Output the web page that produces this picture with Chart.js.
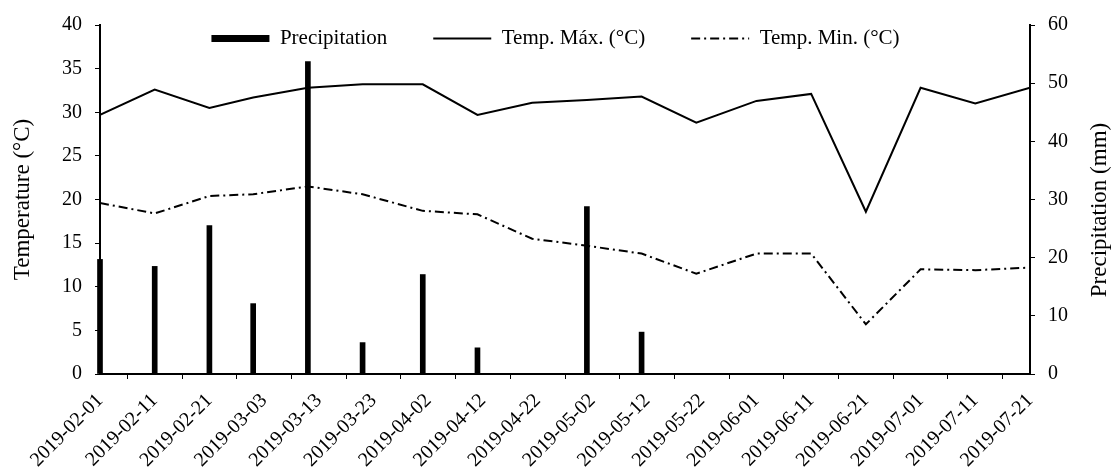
<!DOCTYPE html>
<html>
<head>
<meta charset="utf-8">
<script src="https://cdn.jsdelivr.net/npm/chart.js@4"></script>
<style>
  body { margin: 0; background: #fff; }
</style>
</head>
<body>
<canvas id="chart" width="1111" height="473"></canvas>
<script>
// dekad dates for temperature
const tempDates = ['2019-02-01', '2019-02-11', '2019-02-21', '2019-03-01', '2019-03-11', '2019-03-21',
  '2019-04-01', '2019-04-11', '2019-04-21', '2019-05-01', '2019-05-11', '2019-05-21',
  '2019-06-01', '2019-06-11', '2019-06-21', '2019-07-01', '2019-07-11', '2019-07-21'];
const tempMax = [29.7, 32.6, 30.5, 31.7, 32.8, 33.2, 33.2, 29.7, 31.1, 31.4, 31.8, 28.8, 31.3, 32.1, 18.6, 32.8, 31.0, 32.8];
const tempMin = [19.6, 18.4, 20.4, 20.6, 21.5, 20.6, 18.7, 18.3, 15.5, 14.7, 13.8, 11.5, 13.8, 13.8, 5.7, 12.0, 11.9, 12.2];

// rain events
const rainDates = ['2019-02-01', '2019-02-11', '2019-02-21', '2019-03-01', '2019-03-11', '2019-03-21',
  '2019-04-01', '2019-04-11', '2019-05-01', '2019-05-11'];
const rain = [19.7, 18.5, 25.5, 12.1, 53.7, 5.4, 17.1, 4.5, 28.8, 7.2];

const startDate = '2019-02-01';
const endDate = '2019-07-21';

const DAY = 86400000;
const t0 = Date.parse(startDate);
const dayOf = (s) => (Date.parse(s) - t0) / DAY;
const dateOf = (d) => new Date(t0 + d * DAY).toISOString().slice(0, 10);

const FONT = 'Liberation Serif';

// legend floats over the plot, takes no room
const legendInside = {
  id: 'legendInside',
  beforeInit(chart) {
    const fit = chart.legend.fit;
    chart.legend.fit = function () {
      fit.call(this);
      this.height = 0;
    };
  },
  afterLayout(chart) {
    const lg = chart.legend;
    lg.top = -18;
    lg.bottom = 62;
    lg.height = 80;
  }
};

// right axis title reads bottom-to-top like the left one
const rightTitle = {
  id: 'rightTitle',
  afterDraw(chart) {
    const ctx = chart.ctx;
    ctx.save();
    ctx.translate(1100, 210);
    ctx.rotate(-Math.PI / 2);
    ctx.font = '23px "' + FONT + '"';
    ctx.fillStyle = '#000';
    ctx.textAlign = 'center';
    ctx.textBaseline = 'middle';
    ctx.fillText('Precipitation (mm)', 0, 0);
    ctx.restore();
  }
};

const axisGrid = { display: true, drawOnChartArea: false, drawTicks: true, tickLength: 5, color: '#000', lineWidth: 1 };
const axisBorder = { display: true, color: '#000', width: 2 };

new Chart(document.getElementById('chart'), {
  type: 'line',
  data: {
    datasets: [
      {
        type: 'bar',
        label: 'Precipitation',
        data: rainDates.map((d, i) => ({ x: dayOf(d), y: rain[i] })),
        backgroundColor: '#000',
        barThickness: 5,
        yAxisID: 'y1',
        clip: false
      },
      {
        label: 'Temp. Máx. (°C)',
        data: tempDates.map((d, i) => ({ x: dayOf(d), y: tempMax[i] })),
        borderColor: '#000',
        borderWidth: 2,
        pointRadius: 0,
        tension: 0,
        yAxisID: 'y'
      },
      {
        label: 'Temp. Min. (°C)',
        data: tempDates.map((d, i) => ({ x: dayOf(d), y: tempMin[i] })),
        borderColor: '#000',
        borderWidth: 2,
        borderDash: [9, 4, 2, 4],
        pointRadius: 0,
        tension: 0,
        yAxisID: 'y'
      }
    ]
  },
  options: {
    responsive: false,
    animation: false,
    layout: { padding: { top: 23, left: 0, right: 0, bottom: 0 } },
    plugins: {
      tooltip: { enabled: false },
      legend: {
        position: 'top',
        labels: {
          usePointStyle: true,
          pointStyleWidth: 58,
          boxHeight: 7,
          padding: 46,
          color: '#000',
          font: { family: FONT, size: 21 },
          generateLabels(chart) {
            return chart.data.datasets.map((ds, i) => ({
              text: ds.label,
              datasetIndex: i,
              fillStyle: '#000',
              strokeStyle: '#000',
              fontColor: '#000',
              lineWidth: ds.type === 'bar' ? 0 : ds.borderWidth,
              lineDash: ds.borderDash || [],
              pointStyle: ds.type === 'bar' ? 'rect' : 'line',
              hidden: false
            }));
          }
        }
      }
    },
    scales: {
      x: {
        type: 'linear',
        min: dayOf(startDate),
        max: dayOf(endDate),
        offset: false,
        grid: axisGrid,
        border: axisBorder,
        ticks: {
          stepSize: 10,
          autoSkip: false,
          minRotation: 45,
          maxRotation: 45,
          padding: 10,
          color: '#000',
          font: { family: FONT, size: 20 },
          callback: (v) => dateOf(v)
        },
        afterFit(s) { s.height = 99; }
      },
      y: {
        position: 'left',
        min: 0,
        max: 40,
        grid: axisGrid,
        border: axisBorder,
        ticks: { stepSize: 5, padding: 13, color: '#000', font: { family: FONT, size: 20 } },
        title: {
          display: true,
          text: 'Temperature (°C)',
          color: '#000',
          font: { family: FONT, size: 23 },
          padding: { top: 9 }
        },
        afterFit(s) { s.width = 100; }
      },
      y1: {
        position: 'right',
        min: 0,
        max: 60,
        grid: axisGrid,
        border: axisBorder,
        ticks: { stepSize: 10, padding: 13, color: '#000', font: { family: FONT, size: 20 } },
        afterFit(s) { s.width = 81; }
      }
    }
  },
  plugins: [legendInside, rightTitle]
});
</script>
</body>
</html>
